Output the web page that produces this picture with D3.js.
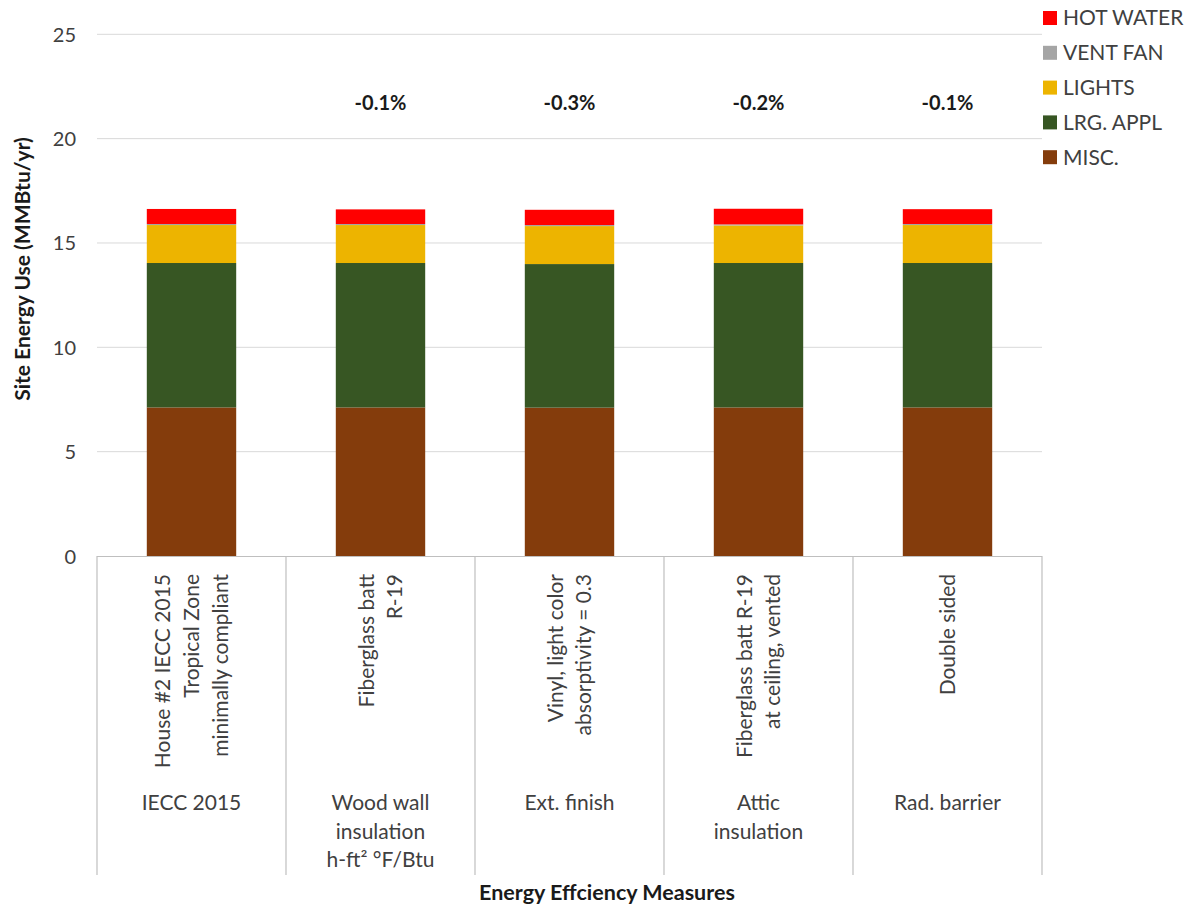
<!DOCTYPE html>
<html>
<head>
<meta charset="utf-8">
<script src="https://cdn.jsdelivr.net/npm/d3@7"></script>
<style>
  html, body { margin: 0; padding: 0; background: #fff; }
  svg { display: block; font-family: Lato, "Open Sans", sans-serif; }
</style>
</head>
<body>
<svg id="chart" width="1194" height="907"></svg>
<script>
// ---- data ----
const categories = ["c1", "c2", "c3", "c4", "c5"];
const measureLabels = [
  ["House #2 IECC 2015", "Tropical Zone", "minimally compliant"],
  ["Fiberglass batt", "R-19"],
  ["Vinyl, light color", "absorptivity = 0.3"],
  ["Fiberglass batt R-19", "at ceiling, vented"],
  ["Double sided"]
];
const groupLabels = [
  ["IECC 2015"],
  ["Wood wall", "insulation", "h-ft\u00B2 \u00B0F/Btu"],
  ["Ext. finish"],
  ["Attic", "insulation"],
  ["Rad. barrier"]
];
const percentLabels = ["", "-0.1%", "-0.3%", "-0.2%", "-0.1%"];
const seriesNames = ["MISC.", "LRG. APPL", "LIGHTS", "VENT FAN", "HOT WATER"];
const misc      = [7.12, 7.12, 7.11, 7.12, 7.12];
const lrgAppl   = [6.92, 6.92, 6.88, 6.92, 6.92];
const lights    = [1.82, 1.82, 1.82, 1.80, 1.82];
const ventFan   = [0.05, 0.05, 0.05, 0.05, 0.05];
const hotWater  = [0.72, 0.70, 0.73, 0.75, 0.71];
const yTicks = [0, 5, 10, 15, 20, 25];
const colors = ["#843C0C", "#375623", "#EDB400", "#A5A5A5", "#FF0000"];
const yTitle = "Site Energy Use (MMBtu/yr)";
const xTitle = "Energy Effciency Measures";

// ---- build ----
const seriesValues = [misc, lrgAppl, lights, ventFan, hotWater];
const rows = categories.map((c, i) => {
  const r = { cat: c };
  seriesNames.forEach((s, j) => r[s] = seriesValues[j][i]);
  return r;
});
const stacked = d3.stack().keys(seriesNames)(rows);

const svg = d3.select("#chart");
const left = 97, right = 1042, y0 = 556, yTop = 34.3;
const x = d3.scaleBand().domain(categories).range([left, right]).padding(0);
const y = d3.scaleLinear().domain([0, 25]).range([y0, yTop]);
const barW = x.bandwidth() * 0.473;
const color = d3.scaleOrdinal().domain(seriesNames).range(colors);
const textColor = "#404040";

// gridlines
svg.append("g").selectAll("line").data(yTicks.filter(t => t > 0)).join("line")
  .attr("x1", left).attr("x2", right)
  .attr("y1", d => y(d)).attr("y2", d => y(d))
  .attr("stroke", "#D9D9D9").attr("stroke-width", 1);

// y axis labels
const yAxis = d3.axisLeft(y).tickValues(yTicks).tickSize(0).tickPadding(0);
const gy = svg.append("g").attr("transform", "translate(76,0)").call(yAxis);
gy.select(".domain").remove();
gy.selectAll("text").attr("font-size", 20).attr("fill", textColor)
  .attr("font-family", "Lato, sans-serif").attr("dy", "0.35em");

// bars
svg.append("g").selectAll("g").data(stacked).join("g")
  .attr("fill", d => color(d.key))
  .selectAll("rect").data(d => d).join("rect")
  .attr("x", d => x(d.data.cat) + (x.bandwidth() - barW) / 2)
  .attr("width", barW)
  .attr("y", d => y(d[1]))
  .attr("height", d => y(d[0]) - y(d[1]));

// percent labels
svg.append("g").selectAll("text").data(categories).join("text")
  .attr("x", d => x(d) + x.bandwidth() / 2)
  .attr("y", 110)
  .attr("text-anchor", "middle")
  .attr("font-size", 20).attr("font-weight", "bold").attr("fill", "#1a1a1a")
  .text((d, i) => percentLabels[i]);

// category axis box
const axisColor = "#BFBFBF";
svg.append("line").attr("x1", left).attr("x2", right).attr("y1", y0 + 0.5).attr("y2", y0 + 0.5)
  .attr("stroke", axisColor).attr("stroke-width", 1.2);
const bounds = categories.map(c => x(c)).concat([right]);
svg.append("g").selectAll("line").data(bounds).join("line")
  .attr("x1", d => d).attr("x2", d => d)
  .attr("y1", y0).attr("y2", 875)
  .attr("stroke", axisColor).attr("stroke-width", 1.2);

// rotated measure labels
const lineGap = 28.7;
categories.forEach((c, i) => {
  const cx = x(c) + x.bandwidth() / 2;
  const lines = measureLabels[i];
  const n = lines.length;
  lines.forEach((t, k) => {
    const bx = cx + (k - (n - 1) / 2) * lineGap + 7.5;
    svg.append("text")
      .attr("transform", `translate(${bx},574) rotate(-90)`)
      .attr("text-anchor", "end")
      .attr("font-size", 21).attr("fill", textColor)
      .text(t);
  });
  groupLabels[i].forEach((t, k) => {
    svg.append("text")
      .attr("x", cx).attr("y", 810 + k * lineGap)
      .attr("text-anchor", "middle")
      .attr("font-size", 21).attr("fill", textColor)
      .text(t);
  });
});

// axis titles
svg.append("text")
  .attr("transform", `translate(30,269) rotate(-90)`)
  .attr("text-anchor", "middle")
  .attr("font-size", 21).attr("font-weight", "bold").attr("fill", "#1a1a1a")
  .text(yTitle);
svg.append("text")
  .attr("x", 607).attr("y", 900)
  .attr("text-anchor", "middle")
  .attr("font-size", 21.5).attr("font-weight", "bold").attr("fill", "#1a1a1a")
  .text(xTitle);

// legend
const legendOrder = seriesNames.slice().reverse();
const lg = svg.append("g").selectAll("g").data(legendOrder).join("g")
  .attr("transform", (d, i) => `translate(1043,${18 + i * 34.8})`);
lg.append("rect").attr("x", 0).attr("y", -7).attr("width", 14).attr("height", 14)
  .attr("fill", d => color(d));
lg.append("text").attr("x", 20).attr("y", 0).attr("dy", "0.35em")
  .attr("font-size", 21).attr("fill", textColor)
  .text(d => d);
</script>
</body>
</html>
